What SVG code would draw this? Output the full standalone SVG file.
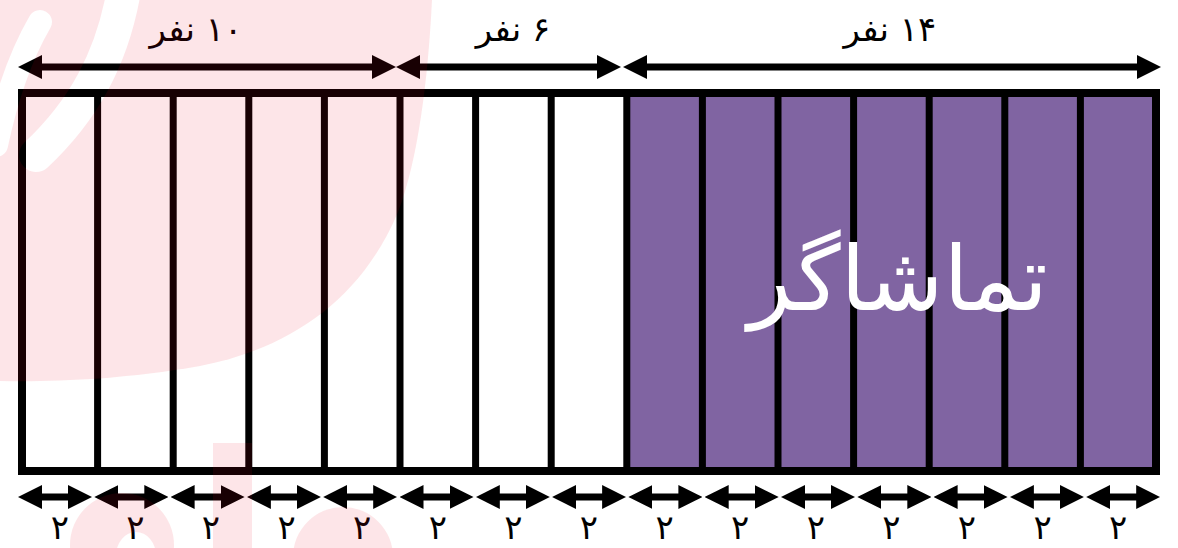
<svg xmlns="http://www.w3.org/2000/svg" width="1178" height="548" viewBox="0 0 1178 548">
<style>
.lbl{font-family:"DejaVu Sans","Noto Sans",sans-serif;fill:#000;text-anchor:middle}
.top{font-size:34px}
.num{font-size:34px}
.big{font-family:"DejaVu Sans","Noto Sans",sans-serif;font-size:90px;fill:#fff;text-anchor:middle}
.arr{stroke:#000;stroke-width:7;fill:none}
.div{stroke:#000;stroke-width:7}
</style>
<defs>
<marker id="ah" viewBox="0 0 24 24" markerWidth="24" markerHeight="24" refX="14" refY="12" orient="auto-start-reverse" markerUnits="userSpaceOnUse">
<path d="M0,0 L24,12 L0,24 Z" fill="#000"/>
</marker>
<mask id="wm">
<rect x="0" y="0" width="1178" height="548" fill="#fff"/>
<path d="M124,-10 C112,60 82,112 36,155" stroke="#000" stroke-width="34" stroke-linecap="round" fill="none"/>
<path d="M40,22 Q12,70 -4,145" stroke="#000" stroke-width="24" stroke-linecap="round" fill="none"/>
<ellipse cx="136" cy="556" rx="20" ry="24" fill="#000"/>
</mask>
</defs>
<rect width="1178" height="548" fill="#fff"/>
<g id="purple-block">
<rect x="627" y="93" width="529" height="378" fill="#8064a2"/>
</g>
<g id="grid">
<rect x="22" y="93" width="1134" height="378" fill="none" stroke="#000" stroke-width="8"/>
<line class="div" x1="97.6" y1="93" x2="97.6" y2="471"/>
<line class="div" x1="173.2" y1="93" x2="173.2" y2="471"/>
<line class="div" x1="248.8" y1="93" x2="248.8" y2="471"/>
<line class="div" x1="324.4" y1="93" x2="324.4" y2="471"/>
<line class="div" x1="400" y1="93" x2="400" y2="471"/>
<line class="div" x1="475.6" y1="93" x2="475.6" y2="471"/>
<line class="div" x1="551.2" y1="93" x2="551.2" y2="471"/>
<line class="div" x1="626.8" y1="93" x2="626.8" y2="471"/>
<line class="div" x1="702.4" y1="93" x2="702.4" y2="471"/>
<line class="div" x1="778" y1="93" x2="778" y2="471"/>
<line class="div" x1="853.6" y1="93" x2="853.6" y2="471"/>
<line class="div" x1="929.2" y1="93" x2="929.2" y2="471"/>
<line class="div" x1="1004.8" y1="93" x2="1004.8" y2="471"/>
<line class="div" x1="1080.4" y1="93" x2="1080.4" y2="471"/>
</g>
<g id="connectors">
<line class="arr" x1="28" y1="67" x2="386" y2="67" marker-start="url(#ah)" marker-end="url(#ah)"/>
<line class="arr" x1="406" y1="67" x2="611" y2="67" marker-start="url(#ah)" marker-end="url(#ah)"/>
<line class="arr" x1="633" y1="67" x2="1151" y2="67" marker-start="url(#ah)" marker-end="url(#ah)"/>
<line class="arr" x1="28" y1="497" x2="82" y2="497" marker-start="url(#ah)" marker-end="url(#ah)"/>
<line class="arr" x1="104.3" y1="497" x2="158.3" y2="497" marker-start="url(#ah)" marker-end="url(#ah)"/>
<line class="arr" x1="180.6" y1="497" x2="234.6" y2="497" marker-start="url(#ah)" marker-end="url(#ah)"/>
<line class="arr" x1="256.9" y1="497" x2="310.9" y2="497" marker-start="url(#ah)" marker-end="url(#ah)"/>
<line class="arr" x1="333.2" y1="497" x2="387.2" y2="497" marker-start="url(#ah)" marker-end="url(#ah)"/>
<line class="arr" x1="409.5" y1="497" x2="463.5" y2="497" marker-start="url(#ah)" marker-end="url(#ah)"/>
<line class="arr" x1="485.8" y1="497" x2="539.8" y2="497" marker-start="url(#ah)" marker-end="url(#ah)"/>
<line class="arr" x1="562.1" y1="497" x2="616.1" y2="497" marker-start="url(#ah)" marker-end="url(#ah)"/>
<line class="arr" x1="638.4" y1="497" x2="692.4" y2="497" marker-start="url(#ah)" marker-end="url(#ah)"/>
<line class="arr" x1="714.7" y1="497" x2="768.7" y2="497" marker-start="url(#ah)" marker-end="url(#ah)"/>
<line class="arr" x1="791" y1="497" x2="845" y2="497" marker-start="url(#ah)" marker-end="url(#ah)"/>
<line class="arr" x1="867.3" y1="497" x2="921.3" y2="497" marker-start="url(#ah)" marker-end="url(#ah)"/>
<line class="arr" x1="943.6" y1="497" x2="997.6" y2="497" marker-start="url(#ah)" marker-end="url(#ah)"/>
<line class="arr" x1="1019.9" y1="497" x2="1073.9" y2="497" marker-start="url(#ah)" marker-end="url(#ah)"/>
<line class="arr" x1="1096.2" y1="497" x2="1150.2" y2="497" marker-start="url(#ah)" marker-end="url(#ah)"/>
</g>
<g id="labels">
<text class="lbl top" x="196" y="41" direction="rtl">۱۰ نفر</text>
<text class="lbl top" x="513" y="41" direction="rtl">۶ نفر</text>
<text class="lbl top" x="890" y="41" direction="rtl">۱۴ نفر</text>
<text class="big" x="898" y="310" direction="rtl">تماشاگر</text>
<text class="lbl num" x="59.8" y="539">۲</text>
<text class="lbl num" x="135.4" y="539">۲</text>
<text class="lbl num" x="211" y="539">۲</text>
<text class="lbl num" x="286.6" y="539">۲</text>
<text class="lbl num" x="362.2" y="539">۲</text>
<text class="lbl num" x="437.8" y="539">۲</text>
<text class="lbl num" x="513.4" y="539">۲</text>
<text class="lbl num" x="589" y="539">۲</text>
<text class="lbl num" x="664.6" y="539">۲</text>
<text class="lbl num" x="740.2" y="539">۲</text>
<text class="lbl num" x="815.8" y="539">۲</text>
<text class="lbl num" x="891.4" y="539">۲</text>
<text class="lbl num" x="967" y="539">۲</text>
<text class="lbl num" x="1042.6" y="539">۲</text>
<text class="lbl num" x="1118.2" y="539">۲</text>
</g>
<g id="watermark" fill="#f0001e" fill-opacity="0.1" mask="url(#wm)">
<path d="M0,0 H432 C428,80 418,160 398,212 C362,298 292,348 200,366 C120,380 50,382 0,381 Z"/>
<rect x="213" y="443" width="39" height="105"/>
<circle cx="122" cy="545" r="52"/>
<circle cx="343" cy="557" r="50"/>
</g>
</svg>
